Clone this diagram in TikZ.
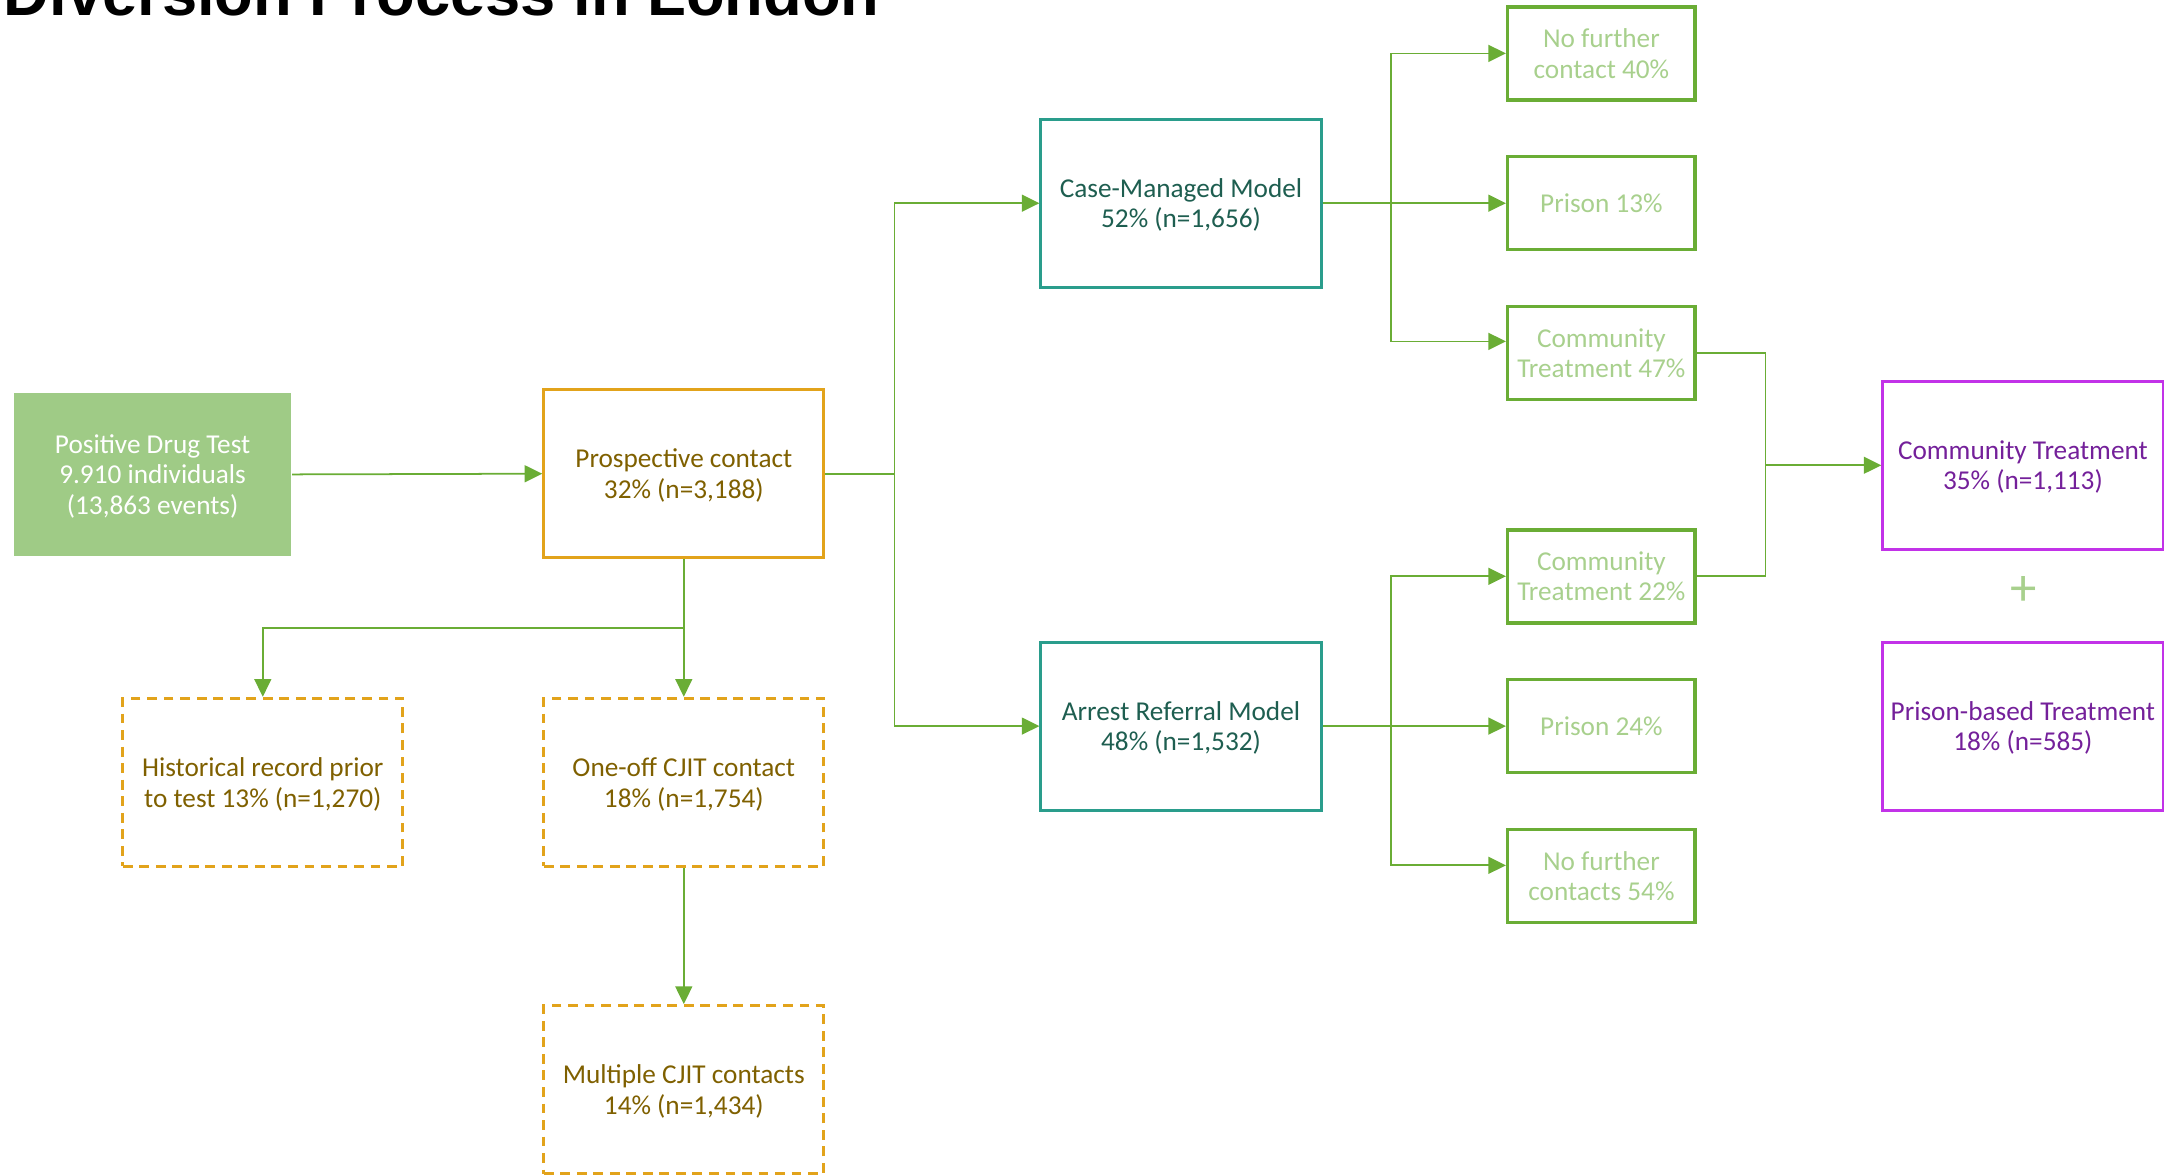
\documentclass[tikz,border=0pt]{standalone}
\usepackage{fontspec}
\setmainfont{Carlito}
\newfontfamily\titlefont{Liberation Sans}
\usetikzlibrary{arrows.meta}
\definecolor{pdtfill}{HTML}{9FCB86}
\definecolor{cgreen}{HTML}{6AAD35}
\definecolor{lgreen}{HTML}{A8D08D}
\definecolor{orangeb}{HTML}{E2A31B}
\definecolor{brownt}{HTML}{7F6000}
\definecolor{tealb}{HTML}{2A9D8C}
\definecolor{tealt}{HTML}{1E5E50}
\definecolor{purpb}{HTML}{C232E8}
\definecolor{purpt}{HTML}{74209A}
\tikzset{
  basebox/.style={rectangle, align=center, inner sep=0pt, text depth=0pt},
  pdtbox/.style={basebox, fill=pdtfill, draw=none, text=white, minimum width=2.774cm, minimum height=1.637cm},
  obox/.style={basebox, draw=orangeb, line width=0.85pt, text=brownt, minimum width=2.80cm, minimum height=1.68cm},
  dbox/.style={obox, dash pattern=on 2.8pt off 1.9pt},
  tbox/.style={basebox, draw=tealb, line width=0.85pt, text=tealt, minimum width=2.80cm, minimum height=1.68cm},
  gbox/.style={basebox, draw=cgreen, line width=1pt, text=lgreen, minimum width=1.873cm, minimum height=0.93cm},
  pbox/.style={basebox, draw=purpb, line width=0.85pt, text=purpt, minimum width=2.80cm, minimum height=1.68cm},
  wire/.style={draw=cgreen, line width=0.5pt},
  conn/.style={wire, -{Triangle[length=5pt,width=4.8pt]}},
}
\begin{document}
\begin{tikzpicture}[x=0.01cm, y=-0.01cm, font=\fontsize{7.75}{8.7}\selectfont]
\useasboundingbox (0,0) rectangle (2175,1176);
\clip (0,0) rectangle (2175,1176);
\node[anchor=base west, inner sep=0pt, font=\titlefont\bfseries\fontsize{18}{20}\selectfont] (title) at (3,16) {Diversion Process in London};

\node[pdtbox] (pdt) at (152.6,474.4) {Positive Drug Test\\9.910 individuals\\(13,863 events)};
\node[obox] (pc) at (683.8,473.7) {Prospective contact\\32\% (n=3,188)};
\node[tbox] (cmm) at (1181,203.2) {Case-Managed Model\\52\% (n=1,656)};
\node[tbox] (arm) at (1181,726.1) {Arrest Referral Model\\48\% (n=1,532)};

\node[gbox] (nf1) at (1601.4,53.4) {No further\\contact 40\%};
\node[gbox] (p1) at (1601.4,203.2) {Prison 13\%};
\node[gbox] (ct1) at (1601.4,353) {Community\\Treatment 47\%};
\node[gbox] (ct2) at (1601.4,576.3) {Community\\Treatment 22\%};
\node[gbox] (p2) at (1601.4,726.1) {Prison 24\%};
\node[gbox] (nf2) at (1601.4,875.9) {No further\\contacts 54\%};

\node[pbox] (pct) at (2022.9,465.3) {Community Treatment\\35\% (n=1,113)};
\node[pbox] (pbt) at (2022.9,726.1) {Prison-based Treatment\\18\% (n=585)};
\node[text=lgreen, inner sep=0pt, font=\fontsize{15}{15}\selectfont] (plus) at (2023.6,590.9) {+};

\node[dbox] (hist) at (262.8,782.3) {Historical record prior\\to test 13\% (n=1,270)};
\node[dbox] (one) at (683.8,782.3) {One-off CJIT contact\\18\% (n=1,754)};
\node[dbox] (mult) at (683.8,1089.6) {Multiple CJIT contacts\\14\% (n=1,434)};

\coordinate (j1) at (894.6,473.7);
\coordinate (j2) at (1391.2,203.2);
\coordinate (j3) at (1391.2,726.1);
\coordinate (j4) at (1765.6,465.3);
\coordinate (j5) at (683.8,628.3);

\draw[conn] (pdt.east) -- (pc.west);
\draw[wire] (pc.east) -- (j1);
\draw[conn] (j1) |- (cmm.west);
\draw[conn] (j1) |- (arm.west);

\draw[wire] (cmm.east) -- (j2);
\draw[conn] (j2) |- (nf1.west);
\draw[conn] (j2) -- (p1.west);
\draw[conn] (j2) |- ([yshift=3.3pt]ct1.west);

\draw[wire] (arm.east) -- (j3);
\draw[conn] (j3) |- (ct2.west);
\draw[conn] (j3) -- (p2.west);
\draw[conn] (j3) |- ([yshift=3pt]nf2.west);

\draw[wire] (ct1.east) -| (j4);
\draw[wire] (ct2.east) -| (j4);
\draw[conn] (j4) -- (pct.west);

\draw[wire] (pc.south) -- (j5);
\draw[conn] (j5) -- (one.north);
\draw[conn] (j5) -| (hist.north);
\draw[conn] (one.south) -- (mult.north);
\end{tikzpicture}
\end{document}
